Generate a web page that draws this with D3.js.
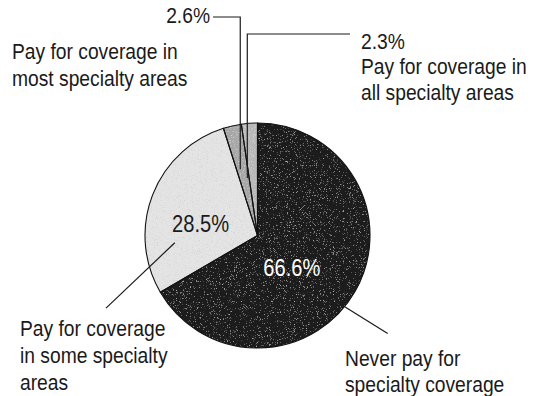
<!DOCTYPE html>
<html>
<head>
<meta charset="utf-8">
<script src="https://cdn.jsdelivr.net/npm/d3@7"></script>
<style>
  html, body { margin: 0; padding: 0; background: #fff; }
  svg { display: block; }
  text { font-family: "Liberation Sans", Arial, sans-serif; fill: #1a1a1a; }
</style>
</head>
<body>
<svg id="chart" width="546" height="396"></svg>
<script>
// Shares of respondents by how they pay for specialty coverage
const categories = [
  "Never pay for specialty coverage",
  "Pay for coverage in some specialty areas",
  "Pay for coverage in most specialty areas",
  "Pay for coverage in all specialty areas"
];
const shares = [66.6, 28.5, 2.6, 2.3];
const valueLabels = ["66.6%", "28.5%", "2.6%", "2.3%"];
const categoryLines = [
  ["Never pay for", "specialty coverage"],
  ["Pay for coverage", "in some specialty", "areas"],
  ["Pay for coverage in", "most specialty areas"],
  ["Pay for coverage in", "all specialty areas"]
];
const sliceColors = ["#1c1c1c", "#e4e4e4", "#a6a6a6", "#b8b8b8"];

const svg = d3.select("#chart");
const cx = 257.5, cy = 235.5, radius = 112.5;
const g = svg.append("g").attr("transform", `translate(${cx},${cy})`);

// Halftone-like speckle: noise thresholded into dots of one tone, laid over the fill
const defs = svg.append("defs");
function speckle(id, tone, gain, cut, freq, seed) {
  const f = defs.append("filter").attr("id", id)
    .attr("x", "-5%").attr("y", "-5%").attr("width", "110%").attr("height", "110%");
  f.append("feTurbulence").attr("type", "fractalNoise")
    .attr("baseFrequency", freq).attr("numOctaves", 2).attr("seed", seed).attr("result", "noise");
  f.append("feColorMatrix").attr("in", "noise").attr("type", "matrix")
    .attr("values", `0 0 0 0 ${tone}  0 0 0 0 ${tone}  0 0 0 0 ${tone}  ${gain} 0 0 0 ${cut}`)
    .attr("result", "dots");
  f.append("feComposite").attr("in", "dots").attr("in2", "SourceGraphic").attr("operator", "in").attr("result", "inside");
  const m = f.append("feMerge");
  m.append("feMergeNode").attr("in", "SourceGraphic");
  m.append("feMergeNode").attr("in", "inside");
}
speckle("grainDark", 0.75, 2.6, -1.62, 1.3, 4);
speckle("grainLight", 0.55, 2.2, -1.22, 1.4, 7);
speckle("grainGray", 0.88, 2.2, -1.2, 1.3, 9);
const sliceFilters = ["url(#grainDark)", "url(#grainLight)", "url(#grainGray)", "url(#grainGray)"];

const pie = d3.pie().sort(null).value(d => d).startAngle(0).endAngle(2 * Math.PI);
const arcs = pie(shares);
const arc = d3.arc().innerRadius(0).outerRadius(radius);

g.selectAll("path.slice")
  .data(arcs)
  .join("path")
  .attr("class", "slice")
  .attr("d", arc)
  .attr("fill", (d, i) => sliceColors[i])
  .attr("filter", (d, i) => sliceFilters[i]);

// slice outlines drawn on top so the speckle never covers them
g.selectAll("path.edge")
  .data(arcs)
  .join("path")
  .attr("class", "edge")
  .attr("d", arc)
  .attr("fill", "none")
  .attr("stroke", "#111")
  .attr("stroke-width", 1.1)
  .attr("stroke-linejoin", "round");

// polar helper: angle in degrees clockwise from 12 o'clock
const polar = (r, deg) => {
  const a = deg * Math.PI / 180;
  return [r * Math.sin(a), -r * Math.cos(a)];
};
const midDeg = d => (d.startAngle + d.endAngle) / 2 * 180 / Math.PI;

// narrow-face text: the print uses a condensed sans
const SQUEEZE = 0.875;
function label(parent, x, y, lines, anchor, size, step, color) {
  const t = parent.append("text")
    .attr("transform", `translate(${x},${y}) scale(${SQUEEZE},1)`)
    .attr("text-anchor", anchor)
    .attr("font-size", size);
  if (color) t.style("fill", color);
  lines.forEach((s, k) => t.append("tspan").attr("x", 0).attr("dy", k === 0 ? 0 : step).text(s));
  return t;
}

// values inside the two big slices
const inner = [
  { i: 0, r: 47, deg: 133, color: "#fff" },
  { i: 1, r: 58, deg: 281, color: "#1a1a1a" }
];
inner.forEach(o => {
  const [x, y] = polar(o.r, o.deg);
  label(g, x, y + 8, [valueLabels[o.i]], "middle", 23, 0, o.color);
});

const leader = d3.line();
const lineStyle = sel => sel.attr("fill", "none").attr("stroke", "#1a1a1a").attr("stroke-width", 1.2);

// leaders for the two thin slices: elbow lines coming down from above
const most = arcs[2], all = arcs[3];
const mostPt = polar(68, midDeg(most));
const allPt = polar(58, midDeg(all) - 3);
g.append("path").call(lineStyle)
  .attr("d", leader([[213 - cx, 17 - cy], [mostPt[0] - 2, 17 - cy], [mostPt[0] - 2, mostPt[1]]]));
g.append("path").call(lineStyle)
  .attr("d", leader([[350 - cx, 34 - cy], [allPt[0] - 3, 34 - cy], [allPt[0] - 3, allPt[1]]]));

// straight leaders for the bottom labels
const someA = polar(83, 265), someB = polar(168, 244.4);
g.append("path").call(lineStyle).attr("d", leader([someA, someB]));
const neverA = polar(108, 129.6), neverB = polar(163, 127);
g.append("path").call(lineStyle).attr("d", leader([neverA, neverB]));

// outside labels
label(svg, 210, 23, [valueLabels[2]], "end", 22, 0);
label(svg, 12, 59, categoryLines[2], "start", 22, 27);
label(svg, 361, 49, [valueLabels[3], ...categoryLines[3]], "start", 22, 25.5);
label(svg, 20, 336, categoryLines[1], "start", 22, 27);
label(svg, 345, 366, categoryLines[0], "start", 22, 26);
</script>
</body>
</html>
